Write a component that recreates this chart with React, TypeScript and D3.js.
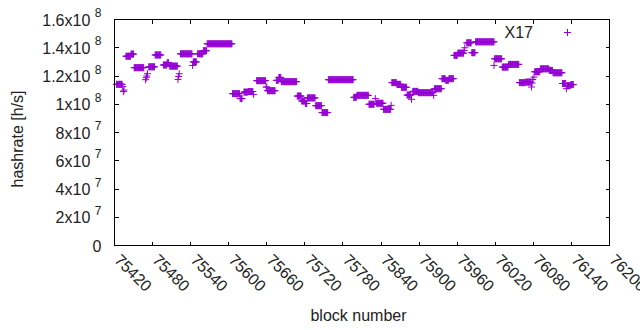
import * as d3 from "d3";

const X17_RUNS: [number, number, number][] = [
  [75423, 75432, 114.1e6],
  [75433, 75433, 112.5e6],
  [75434, 75434, 109.0e6],
  [75435, 75435, 110.0e6],
  [75438, 75445, 134.0e6],
  [75446, 75450, 135.5e6],
  [75451, 75466, 125.9e6],
  [75469, 75469, 117.4e6],
  [75470, 75470, 118.8e6],
  [75471, 75471, 120.0e6],
  [75472, 75472, 121.6e6],
  [75474, 75483, 126.5e6],
  [75484, 75493, 134.9e6],
  [75497, 75502, 127.8e6],
  [75503, 75505, 129.4e6],
  [75507, 75519, 127.0e6],
  [75520, 75520, 117.6e6],
  [75521, 75521, 119.7e6],
  [75522, 75522, 121.6e6],
  [75524, 75542, 135.7e6],
  [75543, 75543, 127.5e6],
  [75544, 75549, 130.0e6],
  [75551, 75559, 135.7e6],
  [75560, 75565, 137.9e6],
  [75566, 75605, 142.8e6],
  [75606, 75617, 107.5e6],
  [75618, 75621, 104.0e6],
  [75624, 75630, 108.6e6],
  [75631, 75638, 109.0e6],
  [75639, 75639, 107.0e6],
  [75644, 75658, 116.7e6],
  [75659, 75660, 112.2e6],
  [75661, 75673, 109.6e6],
  [75675, 75678, 116.9e6],
  [75679, 75682, 119.0e6],
  [75683, 75707, 116.0e6],
  [75708, 75714, 105.8e6],
  [75715, 75720, 102.3e6],
  [75721, 75723, 100.5e6],
  [75724, 75736, 104.5e6],
  [75737, 75746, 99.0e6],
  [75747, 75756, 94.1e6],
  [75757, 75796, 117.4e6],
  [75797, 75801, 104.9e6],
  [75802, 75820, 106.3e6],
  [75821, 75829, 100.0e6],
  [75831, 75831, 104.0e6],
  [75833, 75843, 100.7e6],
  [75844, 75855, 96.4e6],
  [75856, 75856, 99.2e6],
  [75857, 75864, 115.3e6],
  [75865, 75871, 114.1e6],
  [75872, 75880, 112.0e6],
  [75881, 75887, 106.5e6],
  [75888, 75888, 103.5e6],
  [75890, 75898, 109.1e6],
  [75899, 75922, 108.2e6],
  [75923, 75923, 106.3e6],
  [75924, 75935, 111.0e6],
  [75936, 75941, 118.1e6],
  [75942, 75946, 116.9e6],
  [75947, 75954, 118.1e6],
  [75955, 75960, 134.6e6],
  [75961, 75970, 136.2e6],
  [75971, 75971, 138.0e6],
  [75972, 75972, 140.0e6],
  [75975, 75982, 143.5e6],
  [75983, 75988, 136.5e6],
  [75989, 76018, 144.2e6],
  [76018, 76018, 127.5e6],
  [76019, 76030, 132.2e6],
  [76031, 76040, 126.3e6],
  [76041, 76057, 128.2e6],
  [76058, 76067, 115.3e6],
  [76068, 76076, 115.7e6],
  [76077, 76077, 112.2e6],
  [76078, 76078, 115.0e6],
  [76079, 76079, 117.5e6],
  [76081, 76081, 119.2e6],
  [76082, 76090, 123.0e6],
  [76091, 76104, 125.1e6],
  [76105, 76110, 124.0e6],
  [76111, 76125, 122.3e6],
  [76126, 76131, 114.7e6],
  [76132, 76132, 111.0e6],
  [76133, 76138, 113.2e6],
  [76139, 76143, 113.9e6],
];

const X_TICKS = [
  75420, 75480, 75540, 75600, 75660, 75720, 75780, 75840, 75900, 75960, 76020,
  76080, 76140, 76200,
];
const Y_TICKS = [0, 2e7, 4e7, 6e7, 8e7, 1e8, 1.2e8, 1.4e8, 1.6e8];
const Y_TICK_LABELS: [string, string][] = [
  ["0", ""],
  ["2x10", "7"],
  ["4x10", "7"],
  ["6x10", "7"],
  ["8x10", "7"],
  ["1x10", "8"],
  ["1.2x10", "8"],
  ["1.4x10", "8"],
  ["1.6x10", "8"],
];

const W = 640;
const H = 330;
const plot = { left: 114.5, right: 609.5, top: 19.5, bottom: 245.5 };
const PURPLE = "#9400d3";
const FONT = "'Liberation Sans', Arial, sans-serif";

function plusPath(x: number, y: number, r = 3.5) {
  return `M${x - r},${y}h${2 * r}M${x},${y - r}v${2 * r}`;
}

export default function App() {
  const x = d3
    .scaleLinear()
    .domain([75420, 76200])
    .range([plot.left, plot.right]);
  const y = d3.scaleLinear().domain([0, 1.6e8]).range([plot.bottom, plot.top]);

  const points = X17_RUNS.flatMap(([a, b, v]) =>
    d3.range(a, b + 1).map((block) => ({ block, value: v }))
  );
  const dots = points.map((d) => plusPath(x(d.block), y(d.value))).join("");

  const tick = 4;

  return (
    <svg
      width={W}
      height={H}
      style={{ position: "absolute", left: 0, top: 0, background: "#fff" }}
      fontFamily={FONT}
    >
      <rect width={W} height={H} fill="#fff" />
      <g stroke="#000" strokeWidth={1} shapeRendering="crispEdges">
        {Y_TICKS.map((t) => (
          <g key={`y${t}`}>
            <line x1={plot.left} x2={plot.left + tick} y1={y(t)} y2={y(t)} />
            <line x1={plot.right} x2={plot.right - tick} y1={y(t)} y2={y(t)} />
          </g>
        ))}
        {X_TICKS.map((t) => (
          <g key={`x${t}`}>
            <line x1={x(t)} x2={x(t)} y1={plot.bottom} y2={plot.bottom - tick} />
            <line x1={x(t)} x2={x(t)} y1={plot.top} y2={plot.top + tick} />
          </g>
        ))}
      </g>

      <path d={dots} stroke={PURPLE} strokeWidth={1} fill="none" />

      <rect
        x={plot.left}
        y={plot.top}
        width={plot.right - plot.left}
        height={plot.bottom - plot.top}
        fill="none"
        stroke="#000"
        strokeWidth={1}
        shapeRendering="crispEdges"
      />

      <g fontSize={16} fill="#222">
        {Y_TICKS.map((t, i) => {
          const [main, exp] = Y_TICK_LABELS[i];
          return (
            <text key={`yl${t}`} x={101.5} y={y(t) + 6} textAnchor="end">
              <tspan>{main}</tspan>
              {exp && (
                <tspan dx={4.5} dy={-8.5} fontSize={12}>
                  {exp}
                </tspan>
              )}
            </text>
          );
        })}
        {X_TICKS.map((t) => (
          <text
            key={`xl${t}`}
            transform={`translate(${x(t) - 1},261) rotate(45)`}
            textAnchor="start"
          >
            {t}
          </text>
        ))}
        <text
          transform={`translate(23,139) rotate(-90)`}
          textAnchor="middle"
        >
          hashrate [h/s]
        </text>
        <text x={358.5} y={321} textAnchor="middle">
          block number
        </text>
        <text x={533} y={37.5} textAnchor="end">
          X17
        </text>
      </g>
      <path d={plusPath(567.5, 32.5)} stroke={PURPLE} strokeWidth={1} fill="none" />
    </svg>
  );
}
